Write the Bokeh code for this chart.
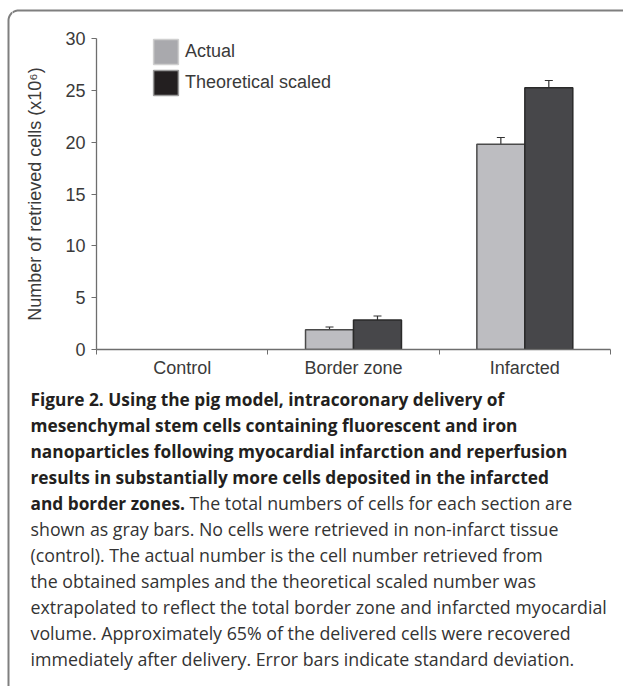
import numpy as np
from bokeh.plotting import figure
from bokeh.layouts import row, column
from bokeh.models import (Range1d, FixedTicker, ColumnDataSource, Whisker, TeeHead,
                          Legend, LegendItem)
from bokeh.transform import dodge
from bokeh.embed import file_html
from bokeh.resources import INLINE
from bokeh.core.properties import value

# ---------------- data ----------------
categories = ["Control", "Border zone", "Infarcted"]
actual = [0.0, 1.9, 19.8]
actual_sd = [0.0, 0.27, 0.65]
theoretical = [0.0, 2.85, 25.25]
theoretical_sd = [0.0, 0.38, 0.7]
y_ticks = [0, 5, 10, 15, 20, 25, 30]
series_names = ["Actual", "Theoretical scaled"]
y_label = "Number of retrieved cells (x10\u2076)"

caption_bold = [
    "Figure 2. Using the pig model, intracoronary delivery of",
    "mesenchymal stem cells containing fluorescent and iron",
    "nanoparticles following myocardial infarction and reperfusion",
    "results in substantially more cells deposited in the infarcted",
    "and border zones.",
]
caption_rest_first = "The total numbers of cells for each section are"
caption_regular = [
    "shown as gray bars. No cells were retrieved in non-infarct tissue",
    "(control). The actual number is the cell number retrieved from",
    "the obtained samples and the theoretical scaled number was",
    "extrapolated to reflect the total border zone and infarcted myocardial",
    "volume. Approximately 65% of the delivered cells were recovered",
    "immediately after delivery. Error bars indicate standard deviation.",
]

# ---------------- styles ----------------
W, H = 623, 686
STRIP_W, STRIP_H = 12, 22
CHART_H = 358
CAP_H = H - STRIP_H - CHART_H
CHART_FONT = "Liberation Sans"
CAP_FONT = "Open Sans"
BOLD_SIZE = "17.3px"
REG_SIZE = "17.8px"
TXT = "#3a3a3a"
AX = "#6e6e6e"
C_ACT = "#bdbdc1"
C_THE = "#47474a"
FRAME_C = "#7f7f7f"
BAR_W = 0.28


def blank(width, height, xr, yr):
    f = figure(width=width, height=height, output_backend="svg", toolbar_location=None,
               x_range=Range1d(*xr), y_range=Range1d(*yr),
               x_axis_type=None, y_axis_type=None, min_border=0)
    f.frame_align = False
    f.outline_line_color = None
    f.xgrid.visible = False
    f.ygrid.visible = False
    f.background_fill_color = "white"
    f.border_fill_color = "white"
    return f


# rounded frame path (page pixel coordinates)
t = np.linspace(np.pi, 1.5 * np.pi, 16)
frame_x = [8] + list(18 + 10 * np.cos(t)) + [W + 5]
frame_y = [H + 5] + list(20 + 10 * np.sin(t)) + [10]

left_strip = blank(STRIP_W, H, (0, STRIP_W), (H, 0))
top_strip = blank(W - STRIP_W, STRIP_H, (STRIP_W, W), (STRIP_H, 0))
for f in (left_strip, top_strip):
    f.line(frame_x, frame_y, line_color=FRAME_C, line_width=2)

# ---------------- chart ----------------
n = len(categories)
idx = [i for i in range(n) if actual[i] > 0 or theoretical[i] > 0]
src = ColumnDataSource(dict(
    pos=[i + 0.5 for i in idx],
    actual=[actual[i] for i in idx],
    a_lo=[actual[i] - actual_sd[i] for i in idx],
    a_hi=[actual[i] + actual_sd[i] for i in idx],
    theo=[theoretical[i] for i in idx],
    t_lo=[theoretical[i] - theoretical_sd[i] for i in idx],
    t_hi=[theoretical[i] + theoretical_sd[i] for i in idx],
))

p = figure(width=W - STRIP_W, height=CHART_H, output_backend="svg", toolbar_location=None,
           x_range=Range1d(0, n), y_range=Range1d(y_ticks[0], y_ticks[-1]))
p.frame_align = False
p.min_border_left = 96 - STRIP_W
p.min_border_right = 13
p.min_border_top = 38 - STRIP_H
p.min_border_bottom = CHART_H - (349 - STRIP_H)
p.outline_line_color = None
p.xgrid.visible = False
p.ygrid.visible = False
p.background_fill_color = "white"
p.border_fill_color = "white"

xa = p.xaxis[0]
xa.ticker = FixedTicker(ticks=[i + 0.5 for i in range(n)], minor_ticks=list(range(n + 1)))
xa.major_label_overrides = {i + 0.5: c for i, c in enumerate(categories)}
xa.major_tick_out = 0
xa.major_tick_in = 0
xa.minor_tick_out = 5
xa.minor_tick_in = 0
xa.minor_tick_line_color = AX
xa.axis_line_color = AX
xa.axis_line_width = 1.3
xa.major_label_text_font = CHART_FONT
xa.major_label_text_font_size = "18px"
xa.major_label_text_color = TXT
xa.major_label_standoff = 3

ya = p.yaxis[0]
ya.ticker = FixedTicker(ticks=y_ticks, minor_ticks=[])
ya.major_tick_out = 5
ya.major_tick_in = 0
ya.major_tick_line_color = AX
ya.axis_line_color = AX
ya.axis_line_width = 1.3
ya.major_label_text_font = CHART_FONT
ya.major_label_text_font_size = "18px"
ya.major_label_text_color = TXT
ya.major_label_standoff = 6
ya.axis_label = y_label
ya.axis_label_text_font = CHART_FONT
ya.axis_label_text_font_size = "18px"
ya.axis_label_text_font_style = "normal"
ya.axis_label_text_color = TXT
ya.axis_label_standoff = 17

p.vbar(x=dodge("pos", -BAR_W / 2), top="actual", width=BAR_W, source=src,
       fill_color=C_ACT, line_color="#4a4a4a", line_width=1.5)
p.vbar(x=dodge("pos", BAR_W / 2), top="theo", width=BAR_W, source=src,
       fill_color=C_THE, line_color="#2a2a2a", line_width=1.5)

for off, lo, hi in [(-BAR_W / 2, "a_lo", "a_hi"), (BAR_W / 2, "t_lo", "t_hi")]:
    w = Whisker(base=dodge("pos", off), lower=lo, upper=hi, source=src,
                line_color="#333333", line_width=1.2,
                upper_head=TeeHead(size=8, line_color="#333333", line_width=1.2),
                lower_head=TeeHead(size=8, line_color="#333333", line_width=1.2))
    p.add_layout(w)

nan = float("nan")
r_a = p.vbar(x=[nan], top=[nan], width=BAR_W, fill_color="#a9a9ad",
             line_color="#cfcfcf", line_width=1.5)
r_t = p.vbar(x=[nan], top=[nan], width=BAR_W, fill_color="#231f20",
             line_color="#9a9a9a", line_width=1.5)
legend = Legend(items=[LegendItem(label=series_names[0], renderers=[r_a]),
                       LegendItem(label=series_names[1], renderers=[r_t])],
                location=(54, 251), orientation="vertical",
                glyph_width=31, glyph_height=31, spacing=0, padding=0, margin=0,
                label_standoff=4, label_text_font=CHART_FONT, label_text_font_size="18px",
                label_text_color=TXT, border_line_color=None, background_fill_alpha=0)
p.add_layout(legend, "center")

# ---------------- caption ----------------
cap_top = STRIP_H + CHART_H
cap = blank(W - STRIP_W, CAP_H, (STRIP_W, W), (H, cap_top))
x0 = 30
base0 = 399
step = 25.9
bold_y = [base0 + k * step for k in range(len(caption_bold))]
reg_y = [base0 + (len(caption_bold) + k) * step for k in range(len(caption_regular))]
cap.text(x=[x0] * len(caption_bold), y=bold_y, text=caption_bold,
         text_font=value(CAP_FONT), text_font_size=BOLD_SIZE, text_font_style="bold",
         text_color="#231f20", text_baseline="alphabetic")
cap.text(x=[x0 + 159], y=[bold_y[-1]], text=[caption_rest_first],
         text_font=value(CAP_FONT), text_font_size=REG_SIZE,
         text_color="#333333", text_baseline="alphabetic")
cap.text(x=[x0] * len(caption_regular), y=reg_y, text=caption_regular,
         text_font=value(CAP_FONT), text_font_size=REG_SIZE,
         text_color="#333333", text_baseline="alphabetic")

layout = row(left_strip, column(top_strip, p, cap, spacing=0), spacing=0)
open("out.html", "w").write(file_html(layout, INLINE))
